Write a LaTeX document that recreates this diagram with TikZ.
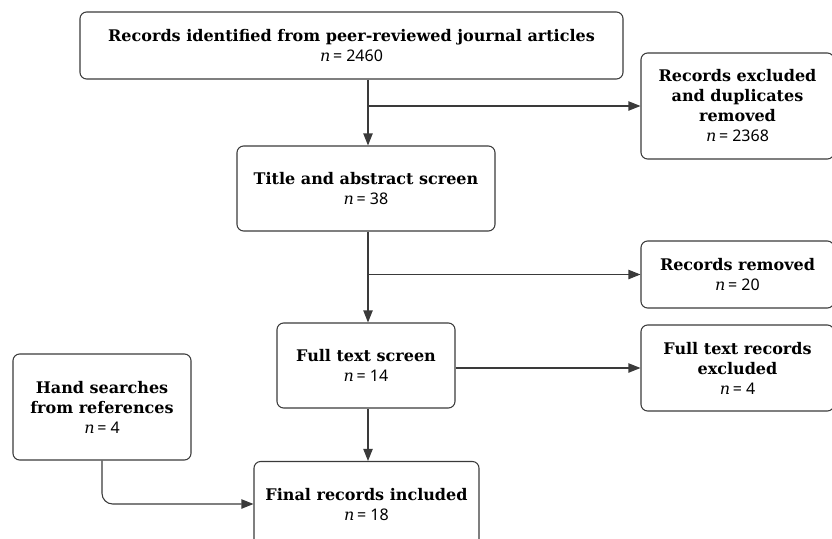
\documentclass[tikz,border=0pt]{standalone}
\usepackage{fontspec}
\setmainfont{DejaVu Serif}
\newfontfamily\numfont{Noto Sans}
\usetikzlibrary{arrows.meta}
\definecolor{edge}{HTML}{3A3A3A}
\newcommand{\cnt}[1]{\textit{n}\,{\numfont = #1}}

\begin{document}
\begin{tikzpicture}[x=0.75pt, y=-0.75pt, font=\fontsize{12}{15}\selectfont,
    main/.style = {draw=edge, line width=0.8pt, rounded corners=5pt, align=center, inner sep=0pt},
    link/.style = {draw=edge, line width=0.8pt, -{Triangle[length=9pt, width=7pt]}}]
            \useasboundingbox (0,0) rectangle (832,539);
            \clip (0,0) rectangle (832,539);

            \node[main, minimum width=543*0.75pt, minimum height=67*0.75pt] (records) at (351.5,45.5) {\textbf{Records identified from peer-reviewed journal articles}\\ \cnt{2460}};
            \node[main, minimum width=193*0.75pt, minimum height=106*0.75pt] (excluded) at (737.5,106) {\textbf{Records excluded}\\ \textbf{and duplicates}\\ \textbf{removed}\\ \cnt{2368}};
            \node[main, minimum width=258*0.75pt, minimum height=85*0.75pt] (title) at (366,188.5) {\textbf{Title and abstract screen}\\ \cnt{38}};
            \node[main, minimum width=193*0.75pt, minimum height=67*0.75pt] (removed) at (737.5,274.5) {\textbf{Records removed}\\ \cnt{20}};
            \node[main, minimum width=178*0.75pt, minimum height=85*0.75pt] (full) at (366,365.5) {\textbf{Full text screen}\\ \cnt{14}};
            \node[main, minimum width=193*0.75pt, minimum height=86*0.75pt] (fullex) at (737.5,368) {\textbf{Full text records}\\ \textbf{excluded}\\ \cnt{4}};
            \node[main, minimum width=178*0.75pt, minimum height=106*0.75pt] (hand) at (102,407) {\textbf{Hand searches}\\ \textbf{from references}\\ \cnt{4}};
            \node[main, minimum width=225*0.75pt, minimum height=85*0.75pt] (final) at (366.5,504) {\textbf{Final records included}\\ \cnt{18}};

            % trunk sits slightly right of the box centres
            \coordinate (trunk) at (368,0);
            \coordinate (split1) at (trunk |- excluded.west);
            \coordinate (split2) at (trunk |- removed.west);

            \draw[link] (records.south -| trunk) -- (title.north -| trunk);
            \draw[link] (split1) -- (excluded.west);

            \draw[link] (title.south -| trunk) -- (full.north -| trunk);
            \draw[link] (split2) -- (removed.west);

            \draw[link] (full.east |- fullex.west) -- (fullex.west);
            \draw[link] (full.south -| trunk) -- (final.north -| trunk);

            \draw[link, rounded corners=8pt] (hand.south) |- (final.west);
\end{tikzpicture}
\end{document}
